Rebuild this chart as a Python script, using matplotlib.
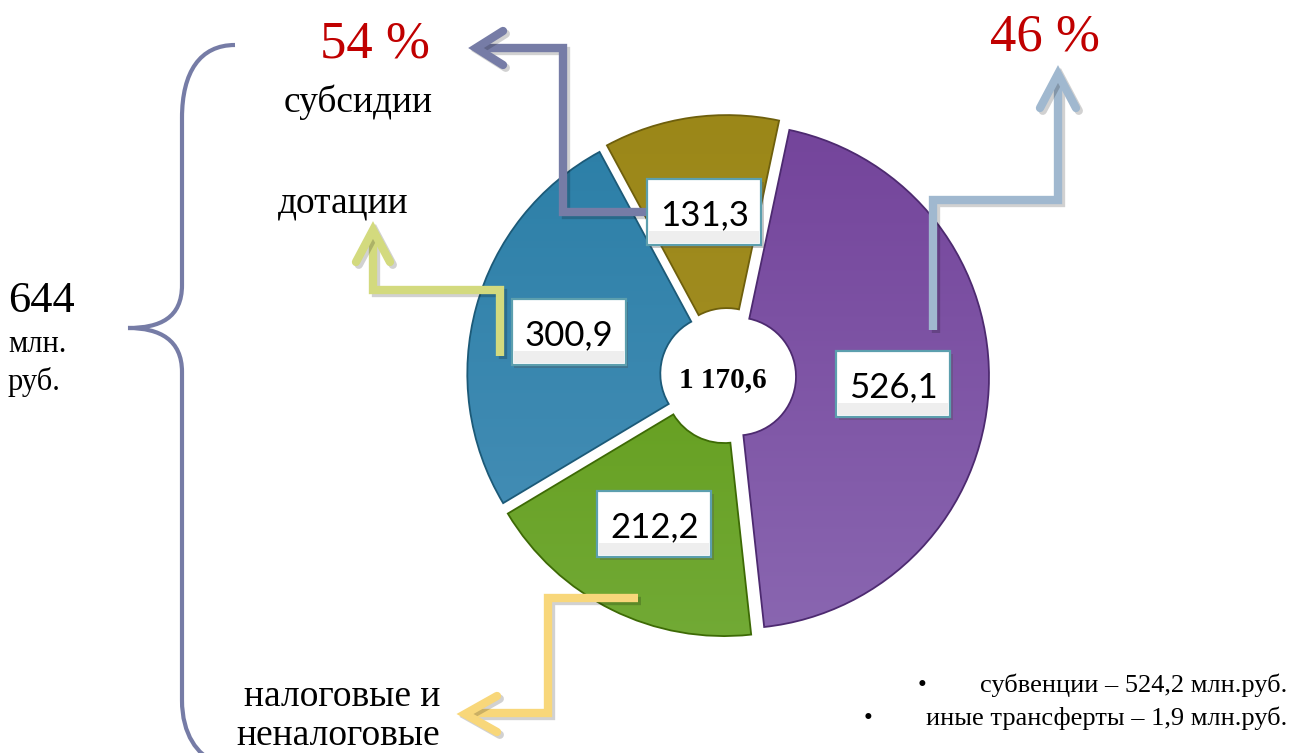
import numpy as np
import matplotlib.pyplot as plt
import matplotlib.patheffects as pe
from matplotlib.colors import to_rgb
from matplotlib.path import Path
from matplotlib.patches import PathPatch, Rectangle

# revenue structure, mln rub (clockwise from the top)
values = [526.1, 212.2, 300.9, 131.3]
value_labels = ['526,1', '212,2', '300,9', '131,3']
total_label = '1 170,6'
share_labels = ['54 %', '46 %']
group_names = ['субсидии', 'дотации', 'налоговые и', 'неналоговые']
bullets = ['субвенции – 524,2 млн.руб.', 'иные трансферты – 1,9 млн.руб.']
own_total = ['644', 'млн.', 'руб.']

top_colors = ['#73439a', '#5a950b', '#2a7ea6', '#9b8718']
bottom_colors = ['#8a67b1', '#72aa36', '#4a91b9', '#a6922a']
edge_colors = ['#4d2a70', '#3d6a05', '#1c5a78', '#6e5f0c']

W, H = 1302, 753
SERIF = 'Liberation Serif'

fig = plt.figure(figsize=(W / 100, H / 100), dpi=100)
ax = fig.add_axes([0, 0, 1, 1])
ax.set_xlim(0, W)
ax.set_ylim(H, 0)

# donut, image coordinates (y goes down, so angles run the other way)
cx, cy, R = 728, 376, 252
wedges, texts = ax.pie(
    values, labels=value_labels, colors=top_colors,
    startangle=-78, counterclock=True,
    radius=R, center=(cx, cy), explode=[9] * len(values),
    labeldistance=0.62, frame=True,
    wedgeprops=dict(width=193),
    textprops=dict(fontsize=25, family='Lato', zorder=7),
)

grad = np.linspace(0, 1, 256)[:, None, None]
for w, c0, c1, ec in zip(wedges, top_colors, bottom_colors, edge_colors):
    rgb = (1 - grad) * np.array(to_rgb(c0)) + grad * np.array(to_rgb(c1))
    im = ax.imshow(rgb, extent=(cx - R - 20, cx + R + 20, cy + R + 20, cy - R - 20),
                   aspect='auto', interpolation='bilinear', zorder=1)
    im.set_clip_path(w)
    w.set_facecolor('none')
    w.set_edgecolor(ec)
    w.set_linewidth(1.3)
    w.set_zorder(2)

# white value boxes around the pie labels
bw, bh = 114, 66
for t in texts:
    t.set_ha('center')
    t.set_va('center_baseline')
    x, y = t.get_position()
    ax.add_patch(Rectangle((x - bw / 2, y - bh / 2), bw, bh, fc='white', ec='#5c9fae',
                           lw=1.6, zorder=6,
                           path_effects=[pe.withSimplePatchShadow(offset=(2, -2), alpha=0.3)]))
    sh = Rectangle((x - bw / 2 + 2, y + bh / 2 - 14), bw - 4, 12, fc='#e4e4e4', ec='none',
                   zorder=6, alpha=0.6)
    ax.add_patch(sh)

ax.text(cx - 5, cy + 4, total_label, fontsize=21, fontweight='bold', family=SERIF,
        ha='center', va='center', zorder=6)


# elbow arrows
def elbow(pts, head, color):
    fx = [pe.SimpleLineShadow(offset=(2, -2), shadow_color='black', alpha=0.18), pe.Normal()]
    xs, ys = zip(*pts)
    ax.plot(xs, ys, color=color, lw=6, solid_joinstyle='miter', solid_capstyle='butt',
            path_effects=fx, zorder=4)
    hx, hy = zip(*head)
    ax.plot(hx, hy, color=color, lw=6, solid_joinstyle='miter', solid_capstyle='round',
            path_effects=fx, zorder=4)


elbow([(650, 212), (563, 212), (563, 48), (480, 48)],
      [(503, 31), (476, 48), (503, 65)], '#767ca6')
elbow([(500, 356), (500, 290), (373, 290), (373, 234)],
      [(356, 262), (373, 230), (390, 262)], '#d3da7e')
elbow([(933, 330), (933, 200), (1058, 200), (1058, 78)],
      [(1040, 108), (1058, 74), (1076, 108)], '#a0b8cf')
elbow([(638, 598), (548, 598), (548, 713), (468, 713)],
      [(497, 696), (465, 714), (497, 732)], '#f8d77a')

# curly brace
verts = [(235, 45), (200, 45), (182, 72), (182, 118),
         (182, 285),
         (182, 318), (160, 328), (128, 328),
         (160, 328), (182, 340), (182, 372),
         (182, 700),
         (182, 735), (198, 755), (215, 762)]
codes = [Path.MOVETO, Path.CURVE4, Path.CURVE4, Path.CURVE4,
         Path.LINETO,
         Path.CURVE4, Path.CURVE4, Path.CURVE4,
         Path.CURVE4, Path.CURVE4, Path.CURVE4,
         Path.LINETO,
         Path.CURVE4, Path.CURVE4, Path.CURVE4]
ax.add_patch(PathPatch(Path(verts, codes), fc='none', ec='#767ca6', lw=3, zorder=3,
                       clip_on=False))

# texts
ax.text(375, 57, share_labels[0], fontsize=38, color='#c00000', family=SERIF,
        ha='center', va='baseline')
ax.text(1045, 50, share_labels[1], fontsize=38, color='#c00000', family=SERIF,
        ha='center', va='baseline')
ax.text(358, 112, group_names[0], fontsize=27, family=SERIF, ha='center', va='baseline')
ax.text(343, 212, group_names[1], fontsize=27, family=SERIF, ha='center', va='baseline')
ax.text(440, 706, group_names[2], fontsize=27, family=SERIF, ha='right', va='baseline')
ax.text(440, 745, group_names[3], fontsize=27, family=SERIF, ha='right', va='baseline')

ax.text(8, 312, own_total[0], fontsize=32, family=SERIF, ha='left', va='baseline')
ax.text(8, 352, own_total[1], fontsize=22, family=SERIF, ha='left', va='baseline')
ax.text(8, 390, own_total[2], fontsize=22, family=SERIF, ha='left', va='baseline')

for (bx, by), line in zip([(922, 692), (868, 725)], bullets):
    ax.text(bx, by, '•', fontsize=18, family=SERIF, ha='center', va='baseline')
    ax.text(1287, by, line, fontsize=19, family=SERIF, ha='right', va='baseline')

ax.set_xlim(0, W)
ax.set_ylim(H, 0)
ax.axis('off')
fig.savefig('out.png', dpi=100)
